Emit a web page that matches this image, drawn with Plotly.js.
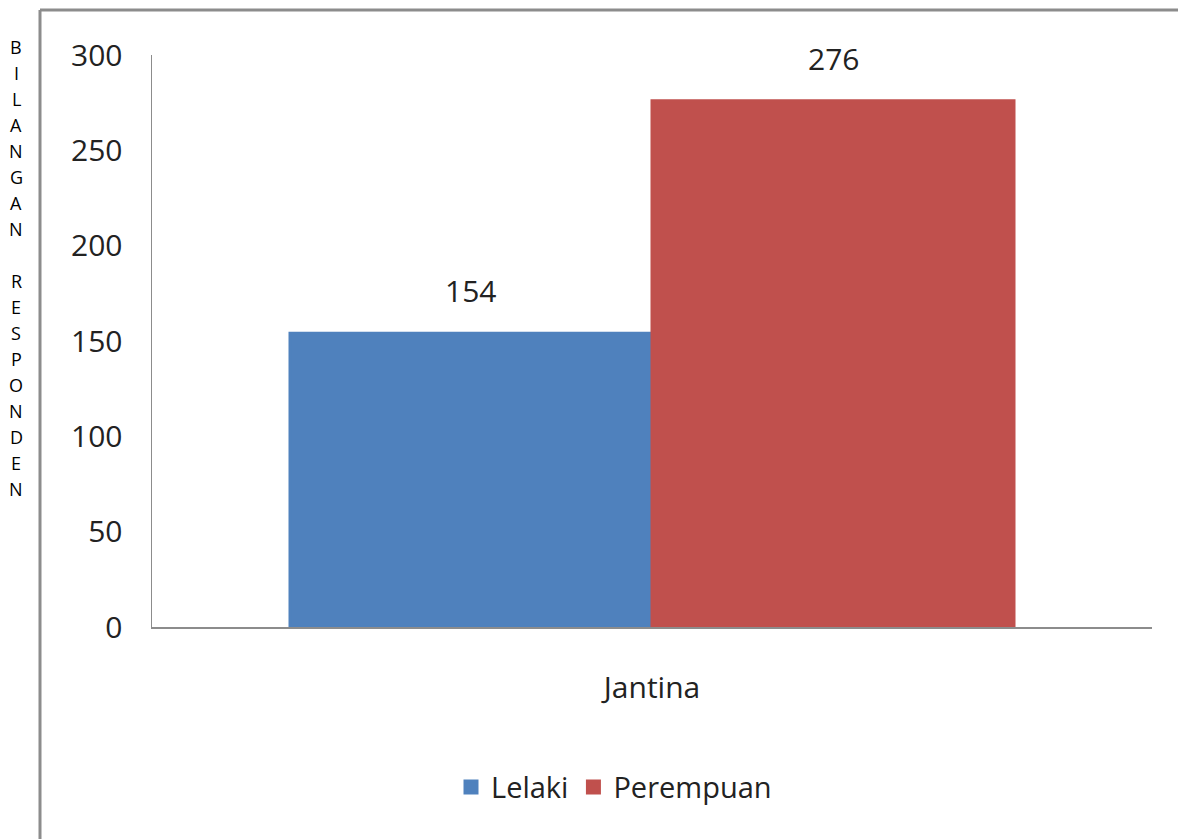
<!DOCTYPE html>
<html>
<head>
<meta charset="utf-8">
<script src="https://cdn.plot.ly/plotly-3.0.1.min.js"></script>
<style>html,body{margin:0;padding:0;background:#fff;}#chart{width:1178px;height:839px;}</style>
</head>
<body>
<div id="chart"></div>
<script>
const categories = ['Jantina'];
const seriesNames = ['Lelaki', 'Perempuan'];
const lelaki = [154];
const perempuan = [276];
const yTicks = [0, 50, 100, 150, 200, 250, 300];
const yTitle = 'BILANGAN RESPONDEN';

const FONT = '"Open Sans", sans-serif';
const colors = ['#4F81BD', '#C0504D'];
const seriesValues = [lelaki, perempuan];

const traces = seriesNames.map((name, i) => ({
  type: 'bar',
  name: name,
  x: categories,
  y: seriesValues[i],
  marker: {color: colors[i], line: {color: colors[i], width: 3}},
  hoverinfo: 'x+y+name'
}));

const annotations = [];
// value labels above bars, from the data
seriesValues.forEach((vals, i) => {
  vals.forEach((v, j) => {
    annotations.push({
      text: String(v), x: categories[j], y: v, xref: 'x', yref: 'y',
      xshift: (i === 0 ? -1 : 1) * 181.5, yshift: 20, yanchor: 'bottom',
      showarrow: false, font: {family: FONT, size: 30, color: '#222'}
    });
  });
});
// stacked vertical title letters
yTitle.split('').forEach((ch, i) => {
  if (ch === ' ') return;
  annotations.push({
    text: ch, xref: 'paper', yref: 'paper',
    x: (16 - 152) / 1000, y: (627 - (47 + i * 26)) / 572,
    xanchor: 'center', yanchor: 'middle', showarrow: false,
    font: {family: FONT, size: 18, color: '#000'}
  });
});

const shapes = [
  {type: 'line', xref: 'paper', yref: 'paper', x0: (40 - 152) / 1000, x1: (40 - 152) / 1000,
   y0: (627 - 10) / 572, y1: (627 - 845) / 572, line: {color: '#8c8c8c', width: 3}},
  {type: 'line', xref: 'paper', yref: 'paper', x0: (40 - 152) / 1000, x1: (1185 - 152) / 1000,
   y0: (627 - 10) / 572, y1: (627 - 10) / 572, line: {color: '#8c8c8c', width: 3}}
];

const layout = {
  width: 1178, height: 839,
  margin: {l: 152, r: 26, t: 55, b: 212, pad: 0},
  paper_bgcolor: '#fff', plot_bgcolor: '#fff',
  font: {family: FONT, color: '#222'},
  barmode: 'group', bargap: 0.276, bargroupgap: 0,
  showlegend: true,
  legend: {orientation: 'h', x: 0.462, xanchor: 'center', y: -0.28, yanchor: 'middle',
           font: {family: FONT, size: 29, color: '#222'}, itemwidth: 30, traceorder: 'normal'},
  xaxis: {showline: true, linecolor: '#8c8c8c', linewidth: 1.5, showgrid: false, zeroline: false,
          ticks: '', ticklabelstandoff: 33, tickfont: {family: FONT, size: 30, color: '#222'}},
  yaxis: {range: [0, 300], tickvals: yTicks, ticktext: yTicks.map(String),
          showline: true, linecolor: '#8c8c8c', linewidth: 1.5, showgrid: false, zeroline: false,
          ticks: '', ticklabelstandoff: 22, tickfont: {family: FONT, size: 30, color: '#222'}},
  annotations: annotations,
  shapes: shapes
};

Plotly.newPlot('chart', traces, layout, {displayModeBar: false, staticPlot: true});
</script>
</body>
</html>
